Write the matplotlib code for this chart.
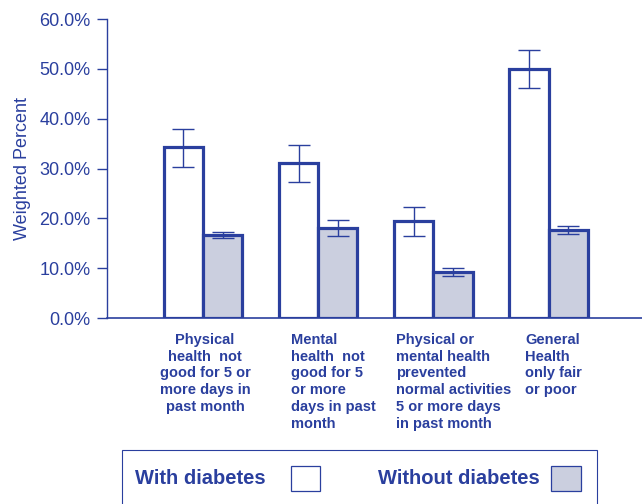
import matplotlib.pyplot as plt
import numpy as np
from matplotlib.patches import Rectangle

plt.rcParams['font.family'] = ['Liberation Sans', 'DejaVu Sans']

BLUE = '#2a3f9e'
GRAY = '#cbcfdf'

categories = [
    "Physical\nhealth  not\ngood for 5 or\nmore days in\npast month",
    "Mental\nhealth  not\ngood for 5\nor more\ndays in past\nmonth",
    "Physical or\nmental health\nprevented\nnormal activities\n5 or more days\nin past month",
    "General\nHealth\nonly fair\nor poor",
]
with_diabetes = [34.3, 31.1, 19.5, 50.0]
with_lo = [30.4, 27.4, 16.5, 46.2]
with_hi = [38.0, 34.7, 22.3, 53.8]
without_diabetes = [16.6, 18.0, 9.2, 17.7]
without_lo = [16.0, 16.4, 8.4, 16.8]
without_hi = [17.3, 19.7, 10.0, 18.5]

fig = plt.figure(figsize=(6.42, 5.04), dpi=100)
ax = fig.add_axes([0.1667, 0.369, 0.8333, 0.593])

x = np.arange(len(categories))
w = 0.34
wd = np.array(with_diabetes)
wo = np.array(without_diabetes)

ax.bar(x - w / 2, wd, width=w, facecolor='white', edgecolor=BLUE, linewidth=2.3, zorder=2)
ax.bar(x + w / 2, wo, width=w, facecolor=GRAY, edgecolor=BLUE, linewidth=2.3, zorder=2)
ax.errorbar(x - w / 2, wd, yerr=[wd - np.array(with_lo), np.array(with_hi) - wd],
            fmt='none', ecolor=BLUE, elinewidth=1.0, capsize=8, capthick=1.0, zorder=3)
ax.errorbar(x + w / 2, wo, yerr=[wo - np.array(without_lo), np.array(without_hi) - wo],
            fmt='none', ecolor=BLUE, elinewidth=1.0, capsize=8, capthick=1.0, zorder=3)

ax.set_xlim(-0.833, 3.81)
ax.set_ylim(0, 60)
ax.set_yticks(np.arange(0, 61, 10))
ax.set_yticklabels([f"{v:.1f}%" for v in range(0, 61, 10)])
ax.set_xticks([])
ax.tick_params(axis='y', colors=BLUE, labelsize=13, length=7, width=1.0, pad=5)
for s in ['top', 'right']:
    ax.spines[s].set_visible(False)
ax.spines['left'].set_color(BLUE)
ax.spines['bottom'].set_color(BLUE)
ax.spines['left'].set_linewidth(1.0)
ax.spines['bottom'].set_linewidth(1.2)
ax.set_ylabel("Weighted Percent", color=BLUE, fontsize=13, labelpad=6)

# category labels under the axis
label_pos = [(205, 'center'), (291, 'left'), (396, 'left'), (525, 'left')]
for (px, ha), txt in zip(label_pos, categories):
    fig.text(px / 642, 1 - 333 / 504, txt, ha=ha, va='top', multialignment=ha,
             color=BLUE, fontsize=10.5, fontweight='bold', linespacing=1.25)

# legend box
fig.patches.append(Rectangle((122 / 642, 1 - 515 / 504), (597 - 122) / 642, 65 / 504,
                             transform=fig.transFigure, fill=False, edgecolor=BLUE, linewidth=0.8))
fig.text(135 / 642, 1 - 479 / 504, "With diabetes", color=BLUE, fontsize=14.5,
         fontweight='bold', va='center', ha='left')
fig.patches.append(Rectangle((291 / 642, 1 - 491 / 504), 29 / 642, 25 / 504,
                             transform=fig.transFigure, facecolor='white', edgecolor=BLUE, linewidth=0.9))
fig.text(378 / 642, 1 - 479 / 504, "Without diabetes", color=BLUE, fontsize=14.5,
         fontweight='bold', va='center', ha='left')
fig.patches.append(Rectangle((551 / 642, 1 - 491 / 504), 30 / 642, 25 / 504,
                             transform=fig.transFigure, facecolor=GRAY, edgecolor=BLUE, linewidth=0.9))

fig.savefig('out.png', dpi=100)
